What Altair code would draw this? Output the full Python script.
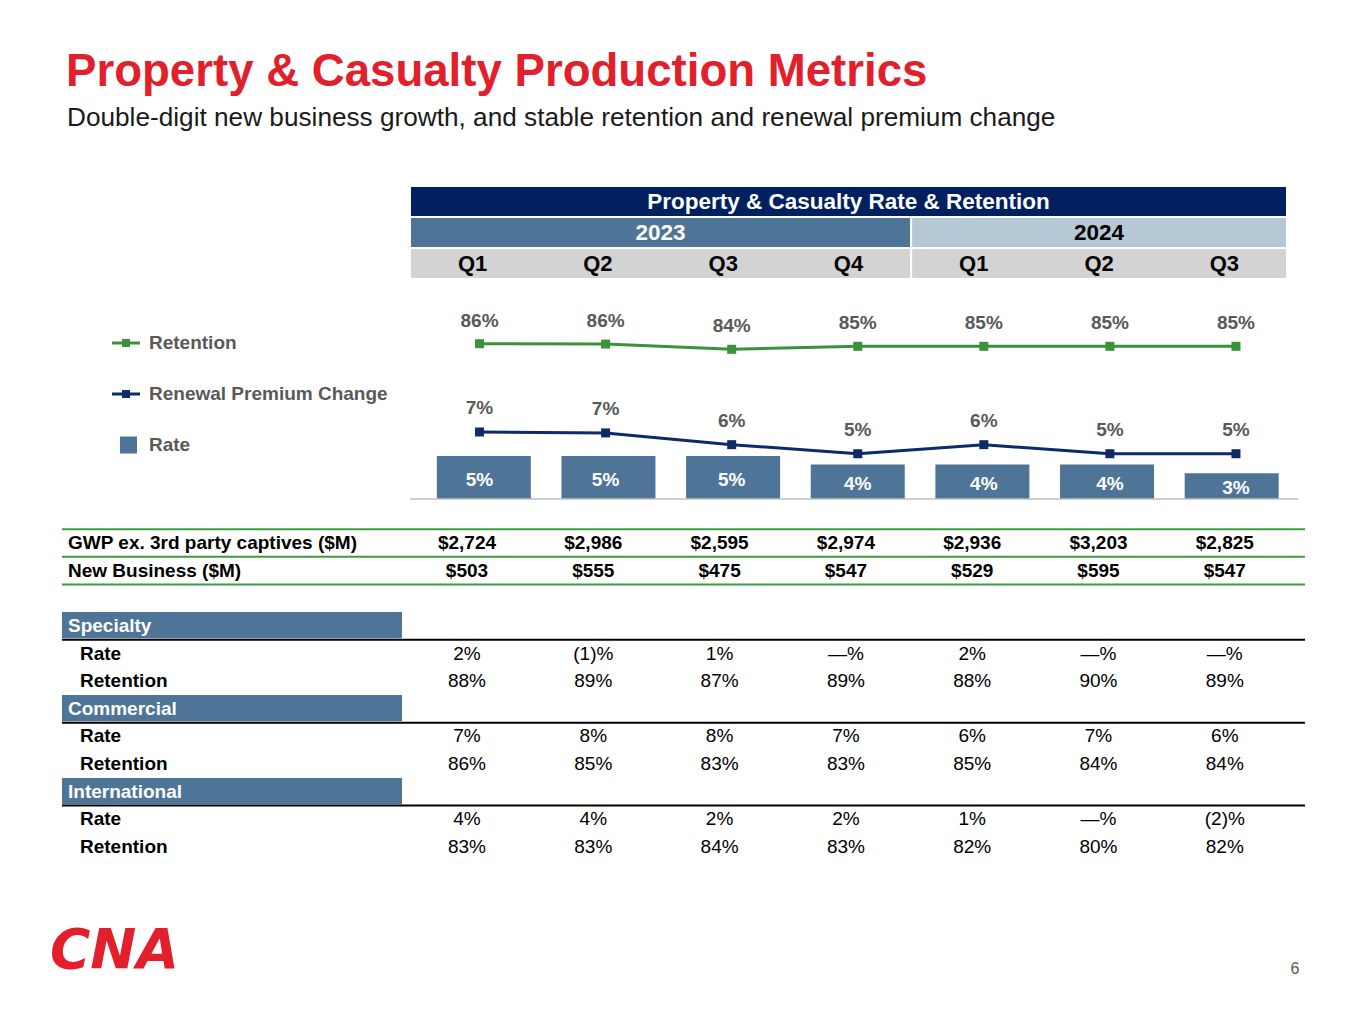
import altair as alt
import pandas as pd

# ---------------- data ----------------
QUARTERS = ["Q1", "Q2", "Q3", "Q4", "Q1", "Q2", "Q3"]
YEARS = ["2023", "2023", "2023", "2023", "2024", "2024", "2024"]

RETENTION = [85.9, 85.8, 84.4, 85.2, 85.2, 85.2, 85.2]          # plotted
RETENTION_LABELS = ["86%", "86%", "84%", "85%", "85%", "85%", "85%"]
RPC = [7.4, 7.3, 6.0, 5.0, 6.0, 5.0, 5.0]                        # renewal premium change (estimated)
RPC_LABELS = ["7%", "7%", "6%", "5%", "6%", "5%", "5%"]
RATE = [5, 5, 5, 4, 4, 4, 3]
RATE_LABELS = ["5%", "5%", "5%", "4%", "4%", "4%", "3%"]

GWP = ["$2,724", "$2,986", "$2,595", "$2,974", "$2,936", "$3,203", "$2,825"]
NEW_BUSINESS = ["$503", "$555", "$475", "$547", "$529", "$595", "$547"]
SPECIALTY_RATE = ["2%", "(1)%", "1%", "—%", "2%", "—%", "—%"]
SPECIALTY_RET = ["88%", "89%", "87%", "89%", "88%", "90%", "89%"]
COMMERCIAL_RATE = ["7%", "8%", "8%", "7%", "6%", "7%", "6%"]
COMMERCIAL_RET = ["86%", "85%", "83%", "83%", "85%", "84%", "84%"]
INTL_RATE = ["4%", "4%", "2%", "2%", "1%", "—%", "(2)%"]
INTL_RET = ["83%", "83%", "84%", "83%", "82%", "80%", "82%"]

TITLE = "Property & Casualty Production Metrics"
SUBTITLE = "Double-digit new business growth, and stable retention and renewal premium change"
HEADER_TITLE = "Property & Casualty Rate & Retention"
LEGEND_ITEMS = ["Retention", "Renewal Premium Change", "Rate"]
PAGE = "6"
LOGO = "CNA"

# ---------------- style ----------------
FONT = "Liberation Sans"
RED = "#E2202B"
NAVY_HDR = "#002060"
STEEL = "#4E7597"
LIGHT = "#B4C8D6"
GRAY_HDR = "#D3D3D3"
GREEN = "#3A923A"
NAVY_LINE = "#0F2A69"
TXT_GRAY = "#595959"

W, H = 1349, 1008

# scales (chart pixel coordinates = page - 8)
hdr_x = alt.Scale(domain=[-0.5, 6.5], range=[402, 1279])
hdr_y = alt.Scale(domain=[0, 3], range=[178, 271])
plot_x = alt.Scale(domain=[-0.5, 6.5], range=[408.5, 1291])
bar_y = alt.Scale(domain=[0, 5], range=[491, 448])
rpc_y = alt.Scale(domain=[0, 7.4], range=[491, 424])
ret_y = alt.Scale(domain=[84.4, 85.9], range=[341.3, 335.7])
leg_y = alt.Scale(domain=[0, 2], range=[335, 437])
tab_x = alt.Scale(domain=[0, 6], range=[459, 1216.8])
tab_y = alt.Scale(domain=[0, 11], range=[535, 839])


def X(f, s):
    return alt.X(f, type="quantitative", scale=s, axis=None)


def Y(f, s):
    return alt.Y(f, type="quantitative", scale=s, axis=None)


n = len(QUARTERS)
qi = list(range(n))

# ---------------- header ----------------
year_names = list(dict.fromkeys(YEARS))
hdr_rows = [{"row": 0, "x0": -0.5, "x1": n - 0.5, "fill": NAVY_HDR, "label": HEADER_TITLE,
             "tc": "white", "xm": (n - 1) / 2}]
start = 0
for k, y in enumerate(year_names):
    cnt = YEARS.count(y)
    hdr_rows.append({"row": 1, "x0": start - 0.5, "x1": start + cnt - 0.5,
                     "fill": STEEL if k == 0 else LIGHT, "label": y,
                     "tc": "white" if k == 0 else "black", "xm": start + (cnt - 1) / 2})
    hdr_rows.append({"row": 2, "x0": start - 0.5, "x1": start + cnt - 0.5,
                     "fill": GRAY_HDR, "label": "", "tc": "black", "xm": 0})
    start += cnt
hdr = pd.DataFrame(hdr_rows)
hdr["row2"] = hdr["row"] + 1
hdr["ym"] = hdr["row"] + 0.5

hdr_rect = alt.Chart(hdr).mark_rect(stroke="white", strokeWidth=2).encode(
    x=X("x0", hdr_x), x2="x1", y=Y("row", hdr_y), y2="row2",
    fill=alt.Fill("fill:N", scale=None))
hdr_text = alt.Chart(hdr[hdr["label"] != ""]).mark_text(
    fontSize=22.5, fontWeight="bold", baseline="middle", font=FONT).encode(
    x=X("xm", hdr_x), y=Y("ym", hdr_y), text="label:N",
    color=alt.Color("tc:N", scale=None))
qdf = pd.DataFrame({"qi": qi, "q": QUARTERS, "ym": [2.5] * n})
q_text = alt.Chart(qdf).mark_text(fontSize=22, fontWeight="bold", baseline="middle",
                                  font=FONT, color="black").encode(
    x=X("qi", hdr_x), y=Y("ym", hdr_y), text="q:N")

# ---------------- chart ----------------
cdf = pd.DataFrame({"qi": qi, "ret": RETENTION, "retl": RETENTION_LABELS,
                    "rpc": RPC, "rpcl": RPC_LABELS, "rate": RATE, "ratel": RATE_LABELS})
cdf["half"] = cdf["rate"] / 2

bars = alt.Chart(cdf).mark_bar(width=94, color=STEEL).encode(
    x=X("qi", plot_x), y=Y("rate", bar_y))
bar_lbl = alt.Chart(cdf).mark_text(color="white", fontSize=19, fontWeight="bold",
                                   baseline="middle", dy=2, font=FONT).encode(
    x=X("qi", plot_x), y=Y("half", bar_y), text="ratel:N")
baseline = alt.Chart(cdf.head(1)).mark_rule(color="#BFBFBF", strokeWidth=1.5).encode(
    x=alt.value(402), x2=alt.value(1290), y=alt.value(491))

ret_line = alt.Chart(cdf).mark_line(color=GREEN, strokeWidth=3).encode(
    x=X("qi", plot_x), y=Y("ret", ret_y))
ret_pts = alt.Chart(cdf).mark_point(shape="square", filled=True, size=81, color=GREEN,
                                    opacity=1).encode(
    x=X("qi", plot_x), y=Y("ret", ret_y))
ret_lbl = alt.Chart(cdf).mark_text(color=TXT_GRAY, fontSize=19, fontWeight="bold",
                                   baseline="middle", dy=-23, font=FONT).encode(
    x=X("qi", plot_x), y=Y("ret", ret_y), text="retl:N")

rpc_line = alt.Chart(cdf).mark_line(color=NAVY_LINE, strokeWidth=3).encode(
    x=X("qi", plot_x), y=Y("rpc", rpc_y))
rpc_pts = alt.Chart(cdf).mark_point(shape="square", filled=True, size=81, color=NAVY_LINE,
                                    opacity=1).encode(
    x=X("qi", plot_x), y=Y("rpc", rpc_y))
rpc_lbl = alt.Chart(cdf).mark_text(color=TXT_GRAY, fontSize=19, fontWeight="bold",
                                   baseline="middle", dy=-24, font=FONT).encode(
    x=X("qi", plot_x), y=Y("rpc", rpc_y), text="rpcl:N")

# ---------------- legend ----------------
ldf = pd.DataFrame({"i": [0, 1, 2], "label": LEGEND_ITEMS,
                    "c": [GREEN, NAVY_LINE, STEEL]})
leg_lines = alt.Chart(ldf.head(2)).mark_rule(strokeWidth=3).encode(
    x=alt.value(104), x2=alt.value(132), y=Y("i", leg_y), color=alt.Color("c:N", scale=None))
leg_pts = alt.Chart(ldf.head(2)).mark_point(shape="square", filled=True, size=64,
                                            opacity=1).encode(
    x=alt.value(118), y=Y("i", leg_y), color=alt.Color("c:N", scale=None))
leg_sq = alt.Chart(ldf.tail(1)).mark_point(shape="square", filled=True, size=289,
                                           opacity=1).encode(
    x=alt.value(120.5), y=Y("i", leg_y), color=alt.Color("c:N", scale=None))
leg_txt = alt.Chart(ldf).mark_text(align="left", baseline="middle", fontSize=19,
                                   fontWeight="bold", color=TXT_GRAY, font=FONT).encode(
    x=alt.value(141), y=Y("i", leg_y), text="label:N")

# ---------------- table ----------------
table_rows = [
    ("GWP ex. 3rd party captives ($M)", GWP, "top"),
    ("New Business ($M)", NEW_BUSINESS, "top"),
    None,
    ("Specialty", None, "section"),
    ("Rate", SPECIALTY_RATE, "sub"),
    ("Retention", SPECIALTY_RET, "sub"),
    ("Commercial", None, "section"),
    ("Rate", COMMERCIAL_RATE, "sub"),
    ("Retention", COMMERCIAL_RET, "sub"),
    ("International", None, "section"),
    ("Rate", INTL_RATE, "sub"),
    ("Retention", INTL_RET, "sub"),
]
lab_recs, val_recs, sec_recs, top_idx = [], [], [], []
for r, item in enumerate(table_rows):
    if item is None:
        continue
    label, vals, kind = item
    lab_recs.append({"r": r, "label": label, "kind": kind})
    if kind == "section":
        sec_recs.append({"r": r, "label": label})
    else:
        if kind == "top":
            top_idx.append(r)
        for i, v in enumerate(vals):
            val_recs.append({"r": r, "qi": i, "v": v, "kind": kind})
lab = pd.DataFrame(lab_recs)
val = pd.DataFrame(val_recs)
sec = pd.DataFrame(sec_recs)
sec["r0"] = sec["r"] - 0.5
sec["r1"] = sec["r"] + 0.45
sec["rl"] = sec["r"] + 0.5
green = pd.DataFrame({"r": [top_idx[0] - 0.5] + [t + 0.5 for t in top_idx]})

green_rules = alt.Chart(green).mark_rule(color="#3C9B3C", strokeWidth=2).encode(
    x=alt.value(54), x2=alt.value(1297), y=Y("r", tab_y))
sec_rect = alt.Chart(sec).mark_rect(color=STEEL).encode(
    x=alt.value(54), x2=alt.value(394), y=Y("r0", tab_y), y2="r1")
sec_rules = alt.Chart(sec).mark_rule(color="black", strokeWidth=2).encode(
    x=alt.value(54), x2=alt.value(1297), y=Y("rl", tab_y))
sec_txt = alt.Chart(sec).mark_text(align="left", baseline="middle", fontSize=19,
                                   fontWeight="bold", color="white", font=FONT).encode(
    x=alt.value(60), y=Y("r", tab_y), text="label:N")
top_lab = alt.Chart(lab[lab["kind"] == "top"]).mark_text(
    align="left", baseline="middle", fontSize=19, fontWeight="bold", color="black",
    font=FONT).encode(x=alt.value(60), y=Y("r", tab_y), text="label:N")
sub_lab = alt.Chart(lab[lab["kind"] == "sub"]).mark_text(
    align="left", baseline="middle", fontSize=19, fontWeight="bold", color="black",
    font=FONT).encode(x=alt.value(72), y=Y("r", tab_y), text="label:N")
top_val = alt.Chart(val[val["kind"] == "top"]).mark_text(
    baseline="middle", fontSize=19, fontWeight="bold", color="black", font=FONT).encode(
    x=X("qi", tab_x), y=Y("r", tab_y), text="v:N")
sub_val = alt.Chart(val[val["kind"] == "sub"]).mark_text(
    baseline="middle", fontSize=19, color="black", font=FONT).encode(
    x=X("qi", tab_x), y=Y("r", tab_y), text="v:N")

# ---------------- titles etc ----------------
one = pd.DataFrame({"t": [TITLE], "s": [SUBTITLE], "p": [PAGE], "l": [LOGO]})
title = alt.Chart(one).mark_text(align="left", baseline="alphabetic", fontSize=45.6,
                                 fontWeight="bold", color=RED, font=FONT).encode(
    x=alt.value(58), y=alt.value(78), text="t:N")
subtitle = alt.Chart(one).mark_text(align="left", baseline="alphabetic", fontSize=26.2,
                                    color="#1A1A1A", font=FONT).encode(
    x=alt.value(59), y=alt.value(118), text="s:N")
page = alt.Chart(one).mark_text(align="center", baseline="middle", fontSize=16,
                                color=TXT_GRAY, font=FONT).encode(
    x=alt.value(1287), y=alt.value(961), text="p:N")
logo = alt.Chart(one).mark_text(align="left", baseline="alphabetic", fontSize=55,
                                fontWeight="bold", fontStyle="italic", color=RED,
                                font="DejaVu Sans").encode(
    x=alt.value(42), y=alt.value(960), text="l:N")

chart = alt.layer(
    hdr_rect, hdr_text, q_text,
    bars, baseline, bar_lbl,
    ret_line, ret_pts, ret_lbl,
    rpc_line, rpc_pts, rpc_lbl,
    leg_lines, leg_pts, leg_sq, leg_txt,
    green_rules, sec_rect, sec_rules, sec_txt, top_lab, sub_lab, top_val, sub_val,
    title, subtitle, page, logo,
).resolve_scale(x="independent", y="independent").properties(
    width=W, height=H, autosize=alt.AutoSizeParams(type="none"), padding=0,
    background="white",
).configure(font=FONT).configure_view(stroke=None)

chart.save("out.html", embed_options={"renderer": "svg", "actions": False})
